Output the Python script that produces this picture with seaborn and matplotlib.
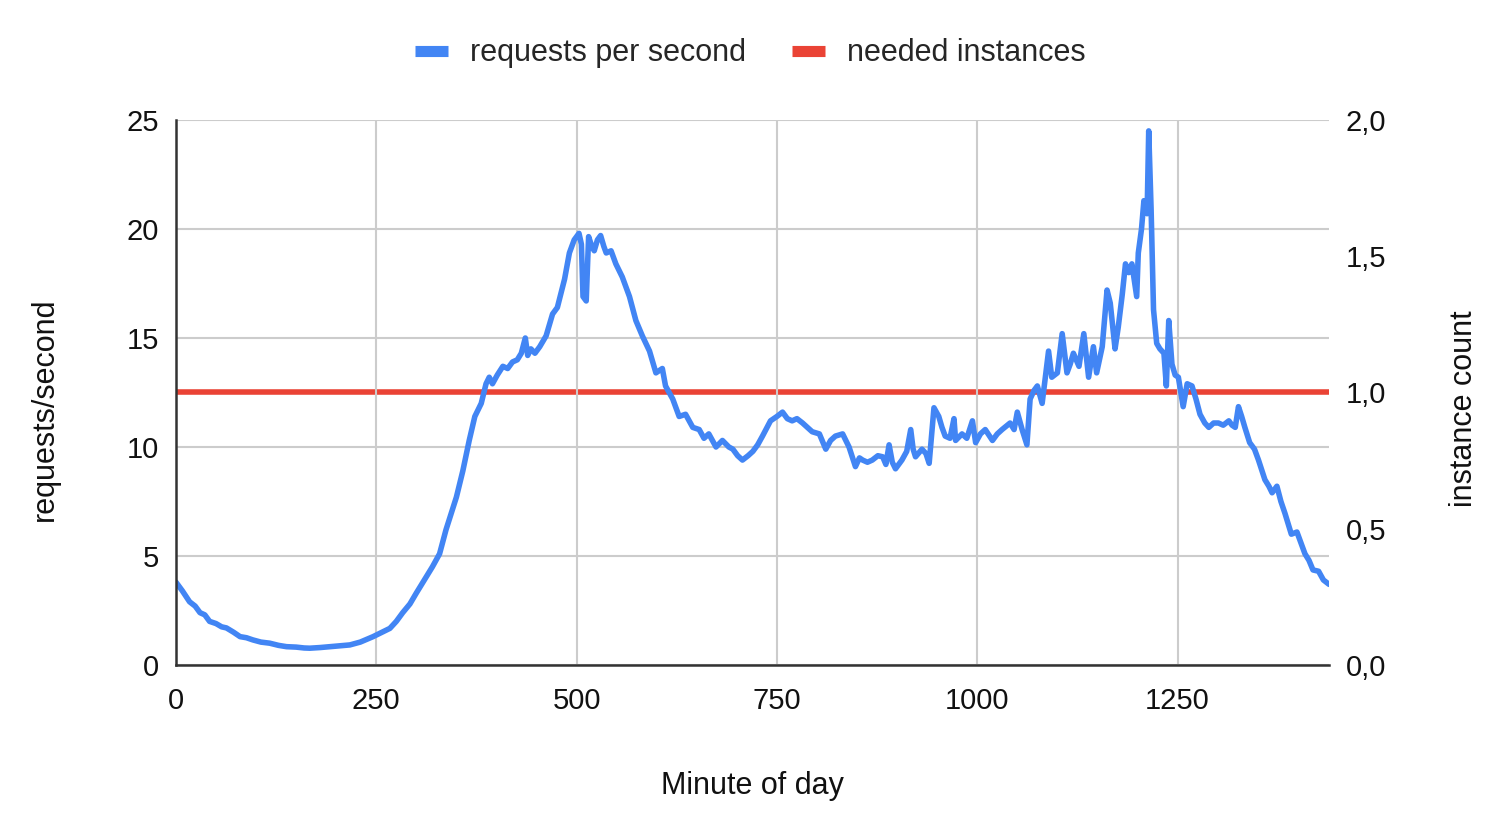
import matplotlib.pyplot as plt
import pandas as pd
import seaborn as sns
from matplotlib.lines import Line2D


# Minute of day and requests per second
minutes = [0, 8, 17, 24, 30, 36, 42, 50, 57, 63, 72, 80, 88, 96, 106, 117, 128, 138, 150, 160,
           167, 180, 192, 205, 217, 230, 246, 257, 267, 275, 283, 292, 300, 310, 320, 329, 337, 344, 350, 358,
           366, 373, 381, 387, 391, 395, 401, 408, 414, 420, 426, 431, 436, 439, 443, 448, 454, 462, 470, 476,
           485, 491, 497, 503, 506, 508, 512, 515, 519, 522, 526, 530, 534, 537, 543, 549, 557, 566, 574, 582,
           591, 599, 603, 607, 611, 620, 628, 636, 645, 653, 659, 665, 674, 682, 690, 695, 701, 707, 714, 720,
           726, 732, 742, 750, 757, 763, 769, 775, 782, 788, 794, 803, 811, 817, 823, 832, 840, 848, 853, 857,
           863, 869, 876, 882, 886, 890, 894, 898, 906, 912, 917, 920, 923, 931, 936, 940, 946, 952, 956, 960,
           966, 971, 973, 981, 987, 994, 998, 1004, 1010, 1019, 1025, 1031, 1041, 1046, 1050, 1056, 1062, 1066, 1071, 1075,
           1081, 1085, 1089, 1093, 1100, 1106, 1112, 1116, 1120, 1127, 1133, 1139, 1145, 1149, 1156, 1162, 1166, 1172, 1176, 1181,
           1185, 1189, 1193, 1199, 1201, 1205, 1208, 1212, 1214, 1217, 1220, 1224, 1228, 1233, 1236, 1239, 1243, 1247, 1251, 1257,
           1262, 1268, 1273, 1278, 1284, 1289, 1295, 1301, 1307, 1314, 1318, 1322, 1326, 1330, 1334, 1340, 1346, 1351, 1359, 1364,
           1368, 1374, 1379, 1384, 1392, 1399, 1404, 1409, 1414, 1419, 1426, 1432, 1439]
requests_per_second = [3.8, 3.4, 2.9, 2.7, 2.4, 2.3, 2.0, 1.9, 1.75, 1.7, 1.5, 1.3, 1.25, 1.15, 1.05, 1.0, 0.9, 0.84, 0.82, 0.78,
                       0.77, 0.8, 0.84, 0.88, 0.92, 1.05, 1.3, 1.5, 1.68, 2.0, 2.4, 2.8, 3.3, 3.9, 4.5, 5.1, 6.2, 7.0, 7.7, 8.9,
                       10.3, 11.4, 12.0, 12.9, 13.2, 12.9, 13.3, 13.7, 13.6, 13.9, 14.0, 14.3, 15.0, 14.2, 14.5, 14.3, 14.6, 15.1, 16.1, 16.4,
                       17.7, 18.9, 19.5, 19.8, 19.3, 16.9, 16.7, 19.65, 19.2, 19.0, 19.5, 19.7, 19.2, 18.9, 19.0, 18.4, 17.8, 16.9, 15.8, 15.1,
                       14.4, 13.4, 13.5, 13.6, 12.8, 12.2, 11.4, 11.5, 10.9, 10.8, 10.4, 10.6, 10.0, 10.3, 10.0, 9.9, 9.6, 9.4, 9.6, 9.8,
                       10.1, 10.5, 11.2, 11.4, 11.6, 11.3, 11.2, 11.3, 11.1, 10.9, 10.7, 10.6, 9.9, 10.3, 10.5, 10.6, 10.0, 9.1, 9.5, 9.4,
                       9.3, 9.4, 9.6, 9.55, 9.2, 10.1, 9.3, 9.0, 9.4, 9.8, 10.8, 9.9, 9.55, 9.9, 9.7, 9.25, 11.8, 11.4, 10.9, 10.5,
                       10.4, 11.3, 10.3, 10.6, 10.4, 11.2, 10.2, 10.6, 10.8, 10.3, 10.6, 10.8, 11.1, 10.8, 11.6, 10.8, 10.1, 12.2, 12.6, 12.8,
                       12.0, 13.2, 14.4, 13.2, 13.4, 15.2, 13.4, 13.8, 14.3, 13.7, 15.2, 13.2, 14.6, 13.4, 14.6, 17.2, 16.6, 14.5, 15.5, 17.0,
                       18.4, 18.0, 18.4, 16.9, 18.9, 20.0, 21.3, 20.7, 24.5, 20.9, 16.3, 14.75, 14.5, 14.3, 12.8, 15.8, 13.8, 13.3, 13.2, 11.85,
                       12.9, 12.8, 12.2, 11.5, 11.1, 10.9, 11.1, 11.1, 11.0, 11.2, 11.0, 10.9, 11.85, 11.4, 10.9, 10.2, 9.9, 9.4, 8.5, 8.2,
                       7.9, 8.2, 7.5, 6.96, 6.0, 6.1, 5.6, 5.1, 4.8, 4.36, 4.3, 3.9, 3.7]

# Needed instances (right axis)
instance_minutes = [0, 1439]
needed_instances = [1, 1]

x_ticks = [0, 250, 500, 750, 1000, 1250]
left_ticks = [0, 5, 10, 15, 20, 25]
right_ticks = [0.0, 0.5, 1.0, 1.5, 2.0]
right_tick_labels = ["0,0", "0,5", "1,0", "1,5", "2,0"]

blue = "#4285F4"
red = "#EA4335"

df = pd.DataFrame({"minute": minutes, "rps": requests_per_second})
df_inst = pd.DataFrame({"minute": instance_minutes, "instances": needed_instances})

sns.set_style("white")
plt.rcParams["font.family"] = ["Liberation Sans", "DejaVu Sans"]
fs_tick = 21
fs_lab = 22

fig, ax = plt.subplots(figsize=(15, 8.23), dpi=100)
fig.subplots_adjust(left=0.1173, right=0.886, top=0.8542, bottom=0.192)

ax2 = ax.twinx()
sns.lineplot(data=df_inst, x="minute", y="instances", ax=ax2, color=red, linewidth=4.0, legend=False)
sns.lineplot(data=df, x="minute", y="rps", ax=ax, color=blue, linewidth=4.0, legend=False, sort=False)

# blue line should sit above the red one
ax.set_zorder(ax2.get_zorder() + 1)
ax.patch.set_visible(False)

ax.set_xlim(0, 1439)
ax.set_ylim(0, 25)
ax2.set_ylim(0, 2)
ax.set_xticks(x_ticks)
ax.set_yticks(left_ticks)
ax2.set_yticks(right_ticks)
ax2.set_yticklabels(right_tick_labels)

ax.grid(True, color="#cccccc", linewidth=1.5)
ax2.grid(False)
ax.set_axisbelow(True)

for a in (ax, ax2):
    for side in ("top", "right", "left", "bottom"):
        a.spines[side].set_visible(False)
for side in ("left", "bottom"):
    ax.spines[side].set_visible(True)
    ax.spines[side].set_color("#333333")
    ax.spines[side].set_linewidth(1.8)

ax.tick_params(axis="both", length=0, labelsize=fs_tick, colors="#111111")
ax.tick_params(axis="y", pad=12)
ax.tick_params(axis="x", pad=16)
ax2.tick_params(axis="y", length=0, labelsize=fs_tick, colors="#111111", pad=12)

ax.set_xlabel("Minute of day", fontsize=fs_lab, labelpad=40, color="#111111")
ax.set_ylabel("requests/second", fontsize=fs_lab, color="#111111")
ax2.set_ylabel("instance count", fontsize=fs_lab, color="#111111")
ax.yaxis.set_label_coords(-0.101, 0.47)
ax2.yaxis.set_label_coords(1.104, 0.47)

handles = [Line2D([0], [0], color=blue, linewidth=8, solid_capstyle="butt"),
           Line2D([0], [0], color=red, linewidth=8, solid_capstyle="butt")]
fig.legend(handles, ["requests per second", "needed instances"], loc="center",
           bbox_to_anchor=(0.5, 0.935), ncol=2, frameon=False, fontsize=fs_lab,
           handlelength=1.1, handletextpad=0.7, columnspacing=1.5)

fig.savefig("out.png")
